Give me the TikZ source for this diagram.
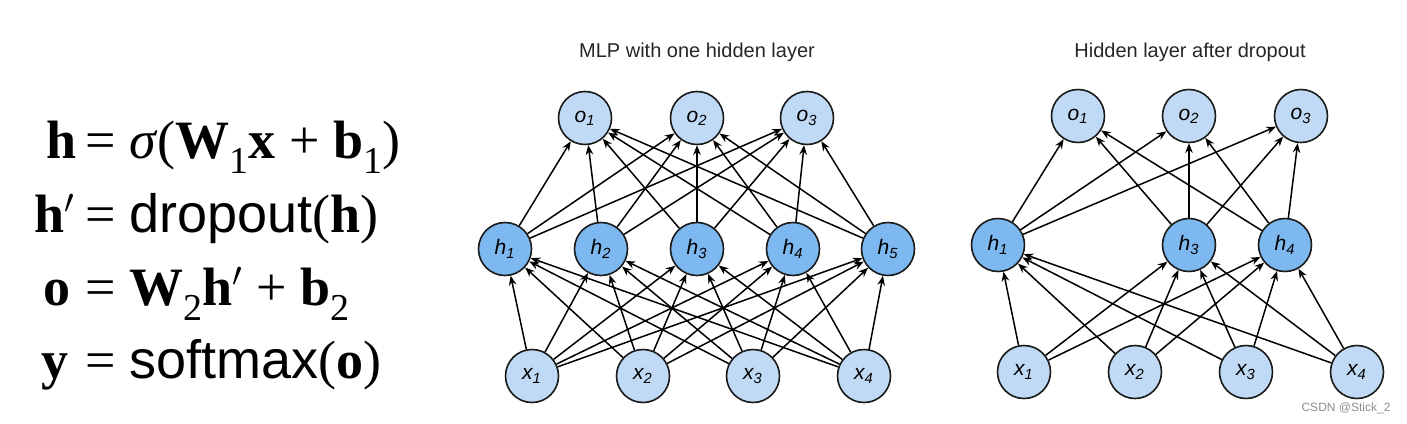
\documentclass[tikz,border=0pt]{standalone}
\usepackage{fontspec}
\setmainfont{Liberation Sans}
\newfontfamily\timesfont{Liberation Serif}
\newfontfamily\arialfont{Liberation Sans}
\usetikzlibrary{arrows.meta}

\definecolor{outblue}{RGB}{192,218,245}
\definecolor{hidblue}{RGB}{125,184,240}
\definecolor{ringgray}{RGB}{26,26,26}

\newcommand{\bvec}[1]{{\bfseries #1}}
\newcommand{\lowsub}[1]{\raisebox{-0.28em}{\fontsize{19}{20}\selectfont #1}}

\begin{document}
\begin{tikzpicture}[x=0.5pt,y=-0.5pt,
  neuron/.style={circle,draw=ringgray,line width=0.8pt,minimum size=26.5pt,
    inner sep=0pt,fill=outblue,font=\fontsize{10.5}{12}\selectfont\itshape},
  hidden/.style={neuron,fill=hidblue},
  link/.style={-{Stealth[length=4.8pt,width=3.8pt]},line width=0.75pt},
  caption/.style={font=\fontsize{10}{12}\selectfont,text=black!85},
  eqn/.style={font=\fontsize{27}{32}\selectfont\timesfont,inner sep=0pt}]

\useasboundingbox (0,0) rectangle (1407,423);

\node[eqn,anchor=base east] (lhs1) at (77,158) {\bfseries h};
\node[eqn,anchor=base west] (rhs1) at (85,158)
  {= \textit{σ}(\bvec{W}\lowsub{1}\bvec{x} + \bvec{b}\lowsub{1})};
\node[eqn,anchor=base east] (lhs2) at (75,232) {\bfseries h$'$};
\node[eqn,anchor=base west] (rhs2) at (85,232)
  {= {\arialfont dropout}(\bvec{h})};
\node[eqn,anchor=base east] (lhs3) at (71,305) {\bfseries o};
\node[eqn,anchor=base west] (rhs3) at (85,305)
  {= \bvec{W}\lowsub{2}\bvec{h}$'$ + \bvec{b}\lowsub{2}};
\node[eqn,anchor=base east] (lhs4) at (69,378) {\bfseries y};
\node[eqn,anchor=base west] (rhs4) at (85,378)
  {= {\arialfont softmax}(\bvec{o})};

\node[caption] (ltitle) at (697,52) {MLP with one hidden layer};
\node[caption] (rtitle) at (1190,52) {Hidden layer after dropout};

\foreach \k/\xx in {1/585,2/697,3/807}
  \node[neuron] (lo\k) at (\xx,118) {o\textsubscript{\k}};
\foreach \j/\xx in {1/505,2/601,3/697,4/793,5/888}
  \node[hidden] (lh\j) at (\xx,249) {h\textsubscript{\j}};
\foreach \i/\xx in {1/532,2/643,3/753,4/864}
  \node[neuron] (lx\i) at (\xx,376) {x\textsubscript{\i}};

\foreach \i in {1,...,4}
  \foreach \j in {1,...,5}
    \draw[link] (lx\i) -- (lh\j);
\foreach \j in {1,...,5}
  \foreach \k in {1,2,3}
    \draw[link] (lh\j) -- (lo\k);

\foreach \k/\xx in {1/1078,2/1189,3/1301}
  \node[neuron] (ro\k) at (\xx,116) {o\textsubscript{\k}};
\foreach \j/\xx in {1/998,3/1189,4/1285}
  \node[hidden] (rh\j) at (\xx,245) {h\textsubscript{\j}};
\foreach \i/\xx in {1/1024,2/1135,3/1246,4/1357}
  \node[neuron] (rx\i) at (\xx,372) {x\textsubscript{\i}};

\foreach \i in {1,...,4}
  \foreach \j in {1,3,4}
    \draw[link] (rx\i) -- (rh\j);
\foreach \j in {1,3,4}
  \foreach \k in {1,2,3}
    \draw[link] (rh\j) -- (ro\k);

\node[font=\fontsize{6}{7}\selectfont,text=black!45] (mark) at (1346,408) {CSDN @Stick\_2};
\end{tikzpicture}
\end{document}
